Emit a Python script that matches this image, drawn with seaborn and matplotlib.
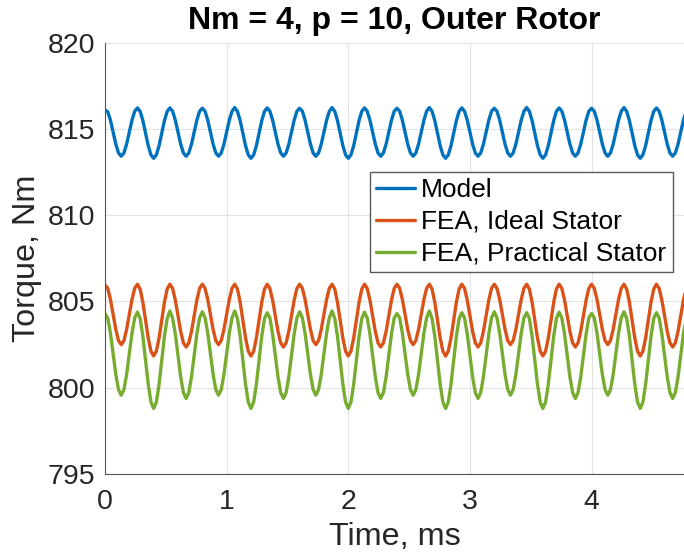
import numpy as np
import pandas as pd
import matplotlib
matplotlib.use("Agg")
import matplotlib.pyplot as plt
import seaborn as sns

# ---------------- data ----------------
title = "Nm = 4, p = 10, Outer Rotor"
x_label = "Time, ms"
y_label = "Torque, Nm"
x_ticks = [0, 1, 2, 3, 4]
y_ticks = [795, 800, 805, 810, 815, 820]
series_names = ["Model", "FEA, Ideal Stator", "FEA, Practical Stator"]

# samples every 1/45 ms (12 samples per ripple period of ~0.267 ms)
time_ms = np.arange(216) / 45.0

model_torque = [
    816.10, 816.00, 815.52, 814.82, 814.12, 813.61, 813.42, 813.61, 814.12, 814.82, 815.52, 816.03,
    816.22, 816.02, 815.49, 814.76, 814.03, 813.50, 813.30, 813.50, 814.03, 814.76, 815.49, 816.02,
    816.22, 816.03, 815.52, 814.82, 814.12, 813.61, 813.42, 813.61, 814.12, 814.82, 815.52, 816.03,
    816.20, 816.03, 815.52, 814.82, 814.12, 813.61, 813.42, 813.61, 814.12, 814.82, 815.52, 816.03,
    816.24, 816.02, 815.49, 814.76, 814.03, 813.50, 813.30, 813.50, 814.03, 814.76, 815.49, 816.02,
    816.22, 816.03, 815.52, 814.82, 814.12, 813.61, 813.42, 813.61, 814.12, 814.82, 815.52, 816.03,
    816.20, 816.03, 815.52, 814.82, 814.12, 813.61, 813.42, 813.61, 814.12, 814.82, 815.52, 816.03,
    816.24, 816.02, 815.49, 814.76, 814.03, 813.50, 813.30, 813.50, 814.03, 814.76, 815.49, 816.02,
    816.22, 816.03, 815.52, 814.82, 814.12, 813.61, 813.42, 813.61, 814.12, 814.82, 815.52, 816.03,
    816.20, 816.03, 815.52, 814.82, 814.12, 813.61, 813.42, 813.61, 814.12, 814.82, 815.52, 816.03,
    816.24, 816.02, 815.49, 814.76, 814.03, 813.50, 813.30, 813.50, 814.03, 814.76, 815.49, 816.02,
    816.22, 816.03, 815.52, 814.82, 814.12, 813.61, 813.42, 813.61, 814.12, 814.82, 815.52, 816.03,
    816.20, 816.03, 815.52, 814.82, 814.12, 813.61, 813.42, 813.61, 814.12, 814.82, 815.52, 816.03,
    816.24, 816.02, 815.49, 814.76, 814.03, 813.50, 813.30, 813.50, 814.03, 814.76, 815.49, 816.02,
    816.22, 816.03, 815.52, 814.82, 814.12, 813.61, 813.42, 813.61, 814.12, 814.82, 815.52, 816.03,
    816.20, 816.03, 815.52, 814.82, 814.12, 813.61, 813.42, 813.61, 814.12, 814.82, 815.52, 816.03,
    816.24, 816.02, 815.49, 814.76, 814.03, 813.50, 813.30, 813.50, 814.03, 814.76, 815.49, 816.02,
    816.22, 816.03, 815.52, 814.82, 814.12, 813.61, 813.42, 813.61, 814.12, 814.82, 815.52, 816.03,
]

fea_ideal_torque = [
    805.95, 805.77, 805.13, 804.25, 803.38, 802.73, 802.50, 802.73, 803.38, 804.25, 805.13, 805.77,
    806.00, 805.72, 804.96, 803.92, 802.88, 802.12, 801.84, 802.12, 802.88, 803.92, 804.96, 805.72,
    806.00, 805.76, 805.09, 804.18, 803.27, 802.60, 802.36, 802.60, 803.27, 804.18, 805.09, 805.76,
    806.00, 805.77, 805.13, 804.25, 803.38, 802.73, 802.50, 802.73, 803.38, 804.25, 805.13, 805.77,
    806.00, 805.72, 804.96, 803.92, 802.88, 802.12, 801.84, 802.12, 802.88, 803.92, 804.96, 805.72,
    806.00, 805.76, 805.09, 804.18, 803.27, 802.60, 802.36, 802.60, 803.27, 804.18, 805.09, 805.76,
    806.00, 805.77, 805.13, 804.25, 803.38, 802.73, 802.50, 802.73, 803.38, 804.25, 805.13, 805.77,
    806.00, 805.72, 804.96, 803.92, 802.88, 802.12, 801.84, 802.12, 802.88, 803.92, 804.96, 805.72,
    806.00, 805.76, 805.09, 804.18, 803.27, 802.60, 802.36, 802.60, 803.27, 804.18, 805.09, 805.76,
    806.00, 805.77, 805.13, 804.25, 803.38, 802.73, 802.50, 802.73, 803.38, 804.25, 805.13, 805.77,
    806.00, 805.72, 804.96, 803.92, 802.88, 802.12, 801.84, 802.12, 802.88, 803.92, 804.96, 805.72,
    806.00, 805.76, 805.09, 804.18, 803.27, 802.60, 802.36, 802.60, 803.27, 804.18, 805.09, 805.76,
    806.00, 805.77, 805.13, 804.25, 803.38, 802.73, 802.50, 802.73, 803.38, 804.25, 805.13, 805.77,
    806.00, 805.72, 804.96, 803.92, 802.88, 802.12, 801.84, 802.12, 802.88, 803.92, 804.96, 805.72,
    806.00, 805.76, 805.09, 804.18, 803.27, 802.60, 802.36, 802.60, 803.27, 804.18, 805.09, 805.76,
    806.00, 805.77, 805.13, 804.25, 803.38, 802.73, 802.50, 802.73, 803.38, 804.25, 805.13, 805.77,
    806.00, 805.72, 804.96, 803.92, 802.88, 802.12, 801.84, 802.12, 802.88, 803.92, 804.96, 805.72,
    806.00, 805.76, 805.09, 804.18, 803.27, 802.60, 802.36, 802.60, 803.27, 804.18, 805.09, 805.76,
]

fea_practical_torque = [
    804.30, 804.04, 803.18, 801.98, 800.77, 799.89, 799.57, 799.89, 800.77, 801.98, 803.18, 804.06,
    804.38, 804.01, 802.99, 801.59, 800.20, 799.17, 798.80, 799.17, 800.20, 801.59, 802.99, 804.01,
    804.45, 804.05, 803.13, 801.88, 800.63, 799.72, 799.38, 799.72, 800.63, 801.88, 803.13, 804.05,
    804.40, 804.06, 803.18, 801.98, 800.77, 799.89, 799.57, 799.89, 800.77, 801.98, 803.18, 804.06,
    804.45, 804.01, 802.99, 801.59, 800.20, 799.17, 798.80, 799.17, 800.20, 801.59, 802.99, 804.01,
    804.35, 804.05, 803.13, 801.88, 800.63, 799.72, 799.38, 799.72, 800.63, 801.88, 803.13, 804.05,
    804.40, 804.06, 803.18, 801.98, 800.77, 799.89, 799.57, 799.89, 800.77, 801.98, 803.18, 804.06,
    804.45, 804.01, 802.99, 801.59, 800.20, 799.17, 798.80, 799.17, 800.20, 801.59, 802.99, 804.01,
    804.38, 804.05, 803.13, 801.88, 800.63, 799.72, 799.38, 799.72, 800.63, 801.88, 803.13, 804.05,
    804.30, 804.06, 803.18, 801.98, 800.77, 799.89, 799.57, 799.89, 800.77, 801.98, 803.18, 804.06,
    804.45, 804.01, 802.99, 801.59, 800.20, 799.17, 798.80, 799.17, 800.20, 801.59, 802.99, 804.01,
    804.35, 804.05, 803.13, 801.88, 800.63, 799.72, 799.38, 799.72, 800.63, 801.88, 803.13, 804.05,
    804.40, 804.06, 803.18, 801.98, 800.77, 799.89, 799.57, 799.89, 800.77, 801.98, 803.18, 804.06,
    804.35, 804.01, 802.99, 801.59, 800.20, 799.17, 798.80, 799.17, 800.20, 801.59, 802.99, 804.01,
    804.38, 804.05, 803.13, 801.88, 800.63, 799.72, 799.38, 799.72, 800.63, 801.88, 803.13, 804.05,
    804.30, 804.06, 803.18, 801.98, 800.77, 799.89, 799.57, 799.89, 800.77, 801.98, 803.18, 804.06,
    804.40, 804.01, 802.99, 801.59, 800.20, 799.17, 798.80, 799.17, 800.20, 801.59, 802.99, 804.01,
    804.35, 804.05, 803.13, 801.88, 800.63, 799.72, 799.38, 799.72, 800.63, 801.88, 803.13, 804.05,
]

colors = ["#0072BD", "#D95319", "#77AC30"]

# ---------------- style ----------------
sns.set_theme(style="white")
plt.rcParams["font.family"] = ["Liberation Sans", "DejaVu Sans"]

fig = plt.figure(figsize=(6.84, 5.6), dpi=100)
ax = fig.add_axes([105 / 684, 1 - 474 / 560, (684 - 105) / 684, (474 - 42.7) / 560])

for name, vals, col in zip(series_names,
                           [model_torque, fea_ideal_torque, fea_practical_torque],
                           colors):
    df = pd.DataFrame({"t": time_ms, "v": vals})
    sns.lineplot(data=df, x="t", y="v", color=col, lw=2.4, label=name, ax=ax)

ax.set_xlim(0, 4.76)
ax.set_ylim(795, 820)
ax.set_xticks(x_ticks)
ax.set_yticks(y_ticks)
ax.grid(True, color="#e3e3e3", lw=0.8)
ax.set_axisbelow(True)

for s in ["top", "right"]:
    ax.spines[s].set_visible(False)
for s in ["left", "bottom"]:
    ax.spines[s].set_color("#555555")
    ax.spines[s].set_linewidth(0.8)

ax.tick_params(axis="both", direction="in", length=4, width=0.8, color="#555555",
               labelsize=20.5, labelcolor="#262626")
ax.tick_params(axis="x", pad=11)
ax.tick_params(axis="y", pad=7)

ax.set_xlabel(x_label, fontsize=23.3, color="#262626", labelpad=5)
ax.set_ylabel(y_label, fontsize=23.3, color="#262626", labelpad=4)
ax.set_title(title, fontsize=23, fontweight="bold", color="black", pad=10)

leg = ax.legend(loc="upper right", bbox_to_anchor=(0.9805, 0.701), borderaxespad=0,
                fontsize=19, handlelength=1.48, handletextpad=0.23,
                labelspacing=0.3, borderpad=0.24, fancybox=False, framealpha=1)
leg.get_frame().set_edgecolor("#5a5a5a")
leg.get_frame().set_linewidth(1.0)
for t in leg.get_texts():
    t.set_color("black")

fig.savefig("out.png", dpi=100)
